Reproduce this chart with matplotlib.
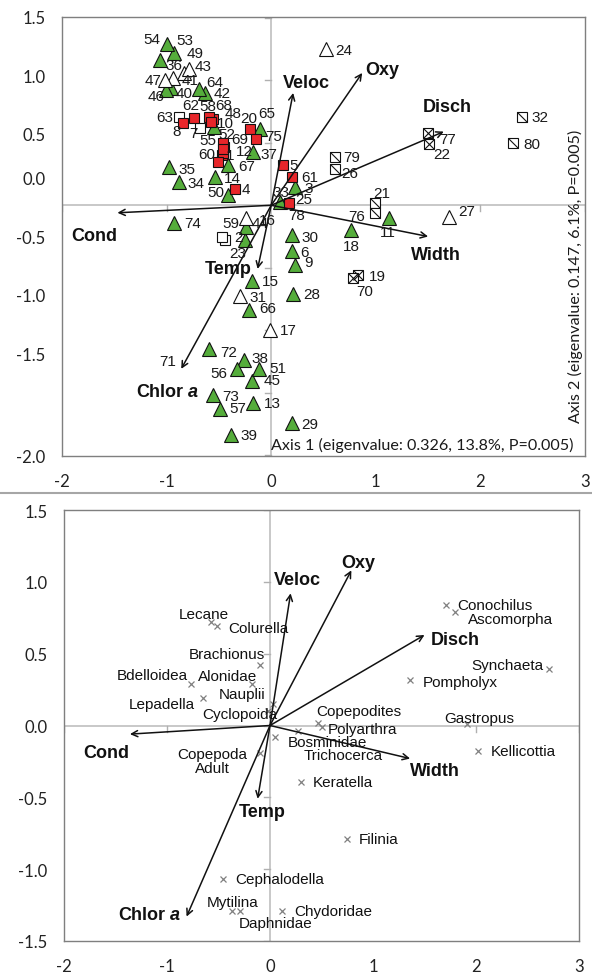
import matplotlib
matplotlib.use('Agg')
import matplotlib.pyplot as plt
from matplotlib.path import Path

plt.rcParams['font.family'] = ['Liberation Sans', 'DejaVu Sans']
plt.rcParams['mathtext.fontset'] = 'custom'
plt.rcParams['mathtext.it'] = 'Liberation Sans:italic:bold'
plt.rcParams['mathtext.rm'] = 'Liberation Sans:bold'

# ---------------- data: sites (upper panel) ----------------
site_ids = list(range(1, 81))
site_x = [-0.47, -0.44, 0.23, -0.35, 0.11, 0.20, -0.68, -0.84, 0.23, -0.55,
          1.13, -0.46, -0.17, -0.54, -0.18, -0.24, -0.01, 0.76, 0.83, -0.20,
          0.99, 1.51, -0.25, 0.52, 0.17, 0.61, 1.70, 0.21, 0.20, 0.20,
          -0.30, 2.40, 0.08, -0.88, -0.98, -0.83, -0.17, -0.26, -0.38, -0.96,
          -0.94, -0.63, -0.79, -0.24, -0.18, -1.01, -1.02, -0.56, -1.06, -0.41,
          -0.12, -0.45, -0.93, -1.00, -0.46, -0.33, -0.49, -0.59, -0.47, -0.51,
          0.20, -0.74, -0.88, -0.69, -0.11, -0.21, -0.41, -0.58, -0.46, 0.78,
          -0.87, -0.59, -0.56, -0.93, -0.15, 0.99, 1.50, 0.11, 0.61, 2.31]
site_y = [0.40, -0.28, 0.15, 0.13, 0.32, -0.37, 0.62, 0.66, -0.48, 0.63,
          -0.10, 0.42, -1.58, 0.23, -0.61, -0.10, -1.00, -0.20, -0.56, 0.61,
          0.02, 0.49, -0.28, 1.25, 0.02, 0.29, -0.09, -0.71, -1.74, -0.24,
          -0.73, 0.71, 0.03, 0.19, 0.31, 1.06, 0.43, -1.24, -1.84, 0.94,
          1.02, 0.90, 1.09, -0.17, -1.41, 0.92, 1.00, 0.69, 1.16, 0.08,
          -1.31, 0.47, 1.22, 1.29, 0.50, -1.31, -1.63, 0.71, -0.25, 0.35,
          0.23, 0.70, 0.71, 0.93, 0.61, -0.84, 0.32, 0.67, 0.45, -0.58,
          -1.29, -1.15, -1.52, -0.14, 0.53, -0.06, 0.58, -0.08, 0.39, 0.50]
# G = green triangle, W = open triangle, R = red square, E = open square,
# S = square with diagonal, X = square with cross, N = label only
site_group = ['R', 'E', 'G', 'R', 'R', 'G', 'E', 'R', 'G', 'G',
              'G', 'R', 'G', 'G', 'G', 'W', 'W', 'G', 'X', 'R',
              'S', 'X', 'G', 'W', 'R', 'S', 'W', 'G', 'G', 'G',
              'W', 'S', 'G', 'G', 'G', 'W', 'G', 'G', 'G', 'G',
              'W', 'G', 'W', 'G', 'G', 'G', 'W', 'R', 'G', 'G',
              'G', 'R', 'G', 'G', 'R', 'G', 'G', 'R', 'E', 'R',
              'R', 'R', 'E', 'G', 'G', 'G', 'G', 'R', 'R', 'X',
              'N', 'G', 'G', 'G', 'R', 'S', 'X', 'N', 'S', 'S']

# environmental vectors
env_names = ['Cond', 'Veloc', 'Oxy', 'Disch', 'Width', 'Temp', 'Chlor $a$']
env_top_x = [-1.47, 0.21, 0.87, 1.65, 1.50, -0.13, -0.86]
env_top_y = [-0.06, 0.90, 1.06, 0.59, -0.25, -0.51, -1.31]
env_bot_x = [-1.36, 0.20, 0.79, 1.50, 1.36, -0.12, -0.81]
env_bot_y = [-0.06, 0.92, 1.08, 0.63, -0.23, -0.51, -1.33]

# ---------------- data: taxa (lower panel) ----------------
taxa_names = ['Lecane', 'Colurella', 'Brachionus', 'Bdelloidea', 'Alonidae',
              'Lepadella', 'Nauplii', 'Cyclopoida', 'Conochilus', 'Ascomorpha',
              'Synchaeta', 'Pompholyx', 'Copepodites', 'Polyarthra', 'Gastropus',
              'Bosminidae', 'Trichocerca', 'Kellicottia', 'Keratella', 'Filinia',
              'Chydoridae', 'Copepoda\nAdult', 'Cephalodella', 'Mytilina', 'Daphnidae']
taxa_x = [-0.57, -0.51, -0.10, -0.77, -0.17, -0.65, 0.03, -0.02, 1.71, 1.80,
          2.71, 1.36, 0.47, 0.50, 1.91, 0.05, 0.27, 2.02, 0.30, 0.75,
          0.12, -0.10, -0.46, -0.37, -0.29]
taxa_y = [0.72, 0.69, 0.42, 0.29, 0.29, 0.19, 0.15, 0.10, 0.84, 0.79,
          0.39, 0.32, 0.02, -0.01, 0.01, -0.08, -0.04, -0.18, -0.39, -0.79,
          -1.29, -0.19, -1.07, -1.29, -1.29]

# tick labels
x_tick_vals = [-2, -1, 0, 1, 2, 3]
y_tick_top = [1.5, 1.0, 0.5, 0.0, -0.5, -1.0, -1.5, -2.0]
y_tick_bot = [1.5, 1.0, 0.5, 0.0, -0.5, -1.0, -1.5]

# ---------------- layout -------------------------------------------------
# rows (pixels from top of figure) where the upper panel's y labels sit in the source
top_ylabel_rows_px = [17, 76, 134, 178, 237, 296, 355, 458]
# label offsets in pixels (dx right, dy down)
site_lab_off = {
    1: (8, 0), 2: (13, -3), 3: (13, 1), 4: (11, 0), 5: (11, 0), 6: (12, 1),
    7: (-7, 5), 8: (-7, 8), 9: (13, -3), 10: (12, -4), 11: (-2, 14), 12: (21, -2),
    13: (19, 0), 14: (18, 1), 15: (18, 0), 16: (21, 2), 17: (18, 0), 18: (1, 16),
    19: (19, 1), 20: (-2, -11), 21: (7, -10), 22: (13, 10), 23: (-7, 13), 24: (18, 1),
    25: (15, -4), 26: (15, 4), 27: (18, -6), 28: (19, 0), 29: (18, 1), 30: (18, 2),
    31: (18, 1), 32: (18, 0), 33: (1, -10), 34: (17, 1), 35: (18, 2), 36: (-10, -8),
    37: (15, 2), 38: (16, -2), 39: (18, 0), 40: (13, 5), 41: (17, 2), 42: (17, 0),
    43: (15, -3), 44: (14, -4), 45: (20, -1), 46: (-9, 6), 47: (-11, 0), 48: (21, -6),
    49: (35, -7), 50: (-12, -3), 51: (19, -1), 52: (3, -13), 53: (11, -13), 54: (-15, -5),
    55: (-15, -3), 56: (-18, 4), 57: (18, -1), 58: (-2, -11), 59: (9, -13), 60: (-11, -8),
    61: (18, 0), 62: (-3, -13), 63: (-14, 0), 64: (16, -7), 65: (7, -16), 66: (19, -2),
    67: (18, 1), 68: (13, -17), 69: (17, -10), 70: (12, 13), 71: (-13, -5), 72: (19, 3),
    73: (18, 1), 74: (19, 0), 75: (18, -3), 76: (-18, 3), 77: (20, 6), 78: (14, 0),
    79: (17, 0), 80: (19, 1)}
env_top_off = [(-23, 23), (13, -10), (20, -3), (3, -25), (8, 18), (-29, 0), (-14, 23)]
env_bot_off = [(-24, 18), (7, -14), (7, -8), (31, 5), (25, 12), (5, 13), (-37, -2)]
taxa_off = [(-7, -8), (41, 2), (-33, -11), (-38, -9), (-25, -8), (-41, 6), (-31, -10),
            (-28, 3), (49, 0), (55, 7), (-42, -4), (50, 2), (40, -12), (41, 2), (13, -6),
            (52, 5), (45, 24), (45, 0), (42, 0), (31, 0), (51, 0), (-47, 8), (57, 0),
            (1, -9), (35, 12)]

W, H = 592, 979
fig = plt.figure(figsize=(W / 100, H / 100), dpi=100)

def add_ax(l, t, r, b):
    return fig.add_axes([l / W, 1 - b / H, (r - l) / W, (b - t) / H])

ax1 = add_ax(62, 18, 585, 457)
ax2 = add_ax(64, 511, 579, 942)

tick_font = dict(family=['Lato', 'DejaVu Sans'], size=12)

def style_axes(ax, xlim, ylim, yt, ylab_pos=None):
    ax.set_xlim(*xlim)
    ax.set_ylim(*ylim)
    for s in ax.spines.values():
        s.set_color('#7f7f7f')
        s.set_linewidth(1.0)
    ax.set_xticks(x_tick_vals)
    ax.set_xticklabels(['%d' % v for v in x_tick_vals], **tick_font)
    ax.set_yticks(yt if ylab_pos is None else ylab_pos)
    ax.set_yticklabels(['%.1f' % v for v in yt], **tick_font)
    ax.tick_params(length=0, pad=12, colors='#222222')
    ax.axhline(0, color='#c8c8c8', lw=1.4, zorder=1)
    ax.axvline(0, color='#c8c8c8', lw=1.4, zorder=1)
    bb = ax.get_position()
    pxx = bb.width * W / (xlim[1] - xlim[0])
    pxy = bb.height * H / (ylim[1] - ylim[0])
    for v in yt:
        ax.plot([0, -6 / pxx], [v, v], color='#b0b0b0', lw=1, zorder=1)
    for v in [-2, -1, 1, 2, 3]:
        ax.plot([v, v], [0, -6 / pxy], color='#b0b0b0', lw=1, zorder=1)

# convert the source's label rows into the upper panel's data units
bb1 = ax1.get_position()
top_px, bot_px = (1 - bb1.y1) * H, (1 - bb1.y0) * H
ylab_pos_top = [1.5 - (r - top_px) / (bot_px - top_px) * 3.5 for r in top_ylabel_rows_px]

style_axes(ax1, (-2, 3), (-2, 1.5), y_tick_top, ylab_pos_top)
style_axes(ax2, (-2, 3), (-1.5, 1.5), y_tick_bot)

def draw_env(ax, xs, ys, offs):
    for name, x, y, (dx, dy) in zip(env_names, xs, ys, offs):
        ax.annotate('', xy=(x, y), xytext=(0, 0),
                    arrowprops=dict(arrowstyle='->', lw=1.1, color='#111111',
                                    shrinkA=0, shrinkB=0, mutation_scale=11),
                    zorder=4)
        ax.annotate(name, xy=(x, y), xytext=(dx, -dy), textcoords='offset pixels',
                    ha='center', va='center', fontsize=13, fontweight='bold',
                    color='#111111', zorder=6)

draw_env(ax1, env_top_x, env_top_y, env_top_off)
draw_env(ax2, env_bot_x, env_bot_y, env_bot_off)

# ---- site markers ----
diag = Path([(-1, 1), (1, -1)], [Path.MOVETO, Path.LINETO])
groups = ['G', 'W', 'E', 'S', 'X', 'R']
for g in groups:
    xs = [x for x, gg in zip(site_x, site_group) if gg == g]
    ys = [y for y, gg in zip(site_y, site_group) if gg == g]
    if g == 'G':
        ax1.plot(xs, ys, '^', ms=10, mfc='#55ad3b', mec='#111111', mew=0.8, ls='none', zorder=3)
    elif g == 'W':
        ax1.plot(xs, ys, '^', ms=10, mfc='white', mec='#111111', mew=0.8, ls='none', zorder=3)
    elif g == 'R':
        ax1.plot(xs, ys, 's', ms=7.5, mfc='#e8262a', mec='#111111', mew=0.8, ls='none', zorder=3.5)
    else:
        ax1.plot(xs, ys, 's', ms=7.5, mfc='white', mec='#111111', mew=0.8, ls='none', zorder=3)
        if g == 'S':
            ax1.plot(xs, ys, marker=diag, ms=7.5, mfc='none', mec='#111111', mew=0.8, ls='none', zorder=3.1)
        elif g == 'X':
            ax1.plot(xs, ys, 'x', ms=7.5, mec='#111111', mew=0.8, ls='none', zorder=3.1)

for sid, x, y in zip(site_ids, site_x, site_y):
    dx, dy = site_lab_off[sid]
    ax1.annotate(str(sid), xy=(x, y), xytext=(dx, -dy), textcoords='offset pixels',
                 ha='center', va='center', fontsize=11, color='#1a1a1a', zorder=5)

ax1.text(0.0, -1.915, 'Axis 1 (eigenvalue: 0.326, 13.8%, P=0.005)',
         ha='left', va='center', fontsize=11.6, family=['Lato', 'DejaVu Sans'],
         color='#1a1a1a', zorder=6)
ax1.text(2.905, -0.565, 'Axis 2 (eigenvalue: 0.147, 6.1%, P=0.005)', rotation=90,
         ha='center', va='center', fontsize=11.6, family=['Lato', 'DejaVu Sans'],
         color='#1a1a1a', zorder=6)

# ---- taxa ----
ax2.plot(taxa_x, taxa_y, 'x', ms=5, mec='#808080', mew=0.9, ls='none', zorder=3)
for name, x, y, (dx, dy) in zip(taxa_names, taxa_x, taxa_y, taxa_off):
    ax2.annotate(name, xy=(x, y), xytext=(dx, -dy), textcoords='offset pixels',
                 ha='center', va='center', fontsize=11, color='#111111', zorder=5,
                 linespacing=1.05)

# separator line between panels
fig.add_artist(plt.Line2D([0, 1], [1 - 494 / H, 1 - 494 / H], color='#a6a6a6', lw=1.5))

fig.savefig('out.png', dpi=100)
